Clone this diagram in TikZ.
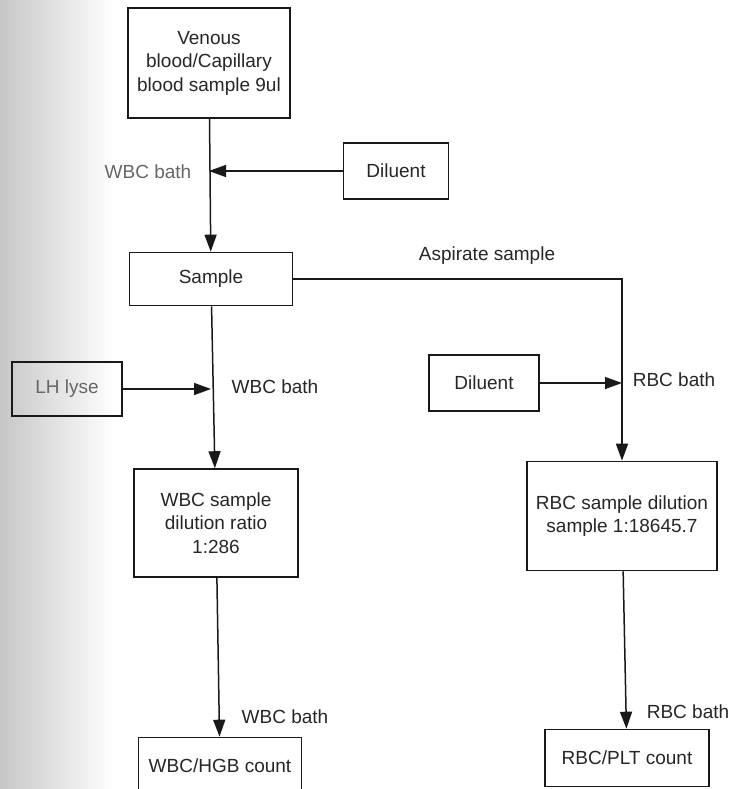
\documentclass[tikz,border=0pt]{standalone}
\usepackage{fontspec}
\setmainfont{Liberation Sans}
\usetikzlibrary{arrows.meta,positioning}

\begin{document}
\begin{tikzpicture}[
    x=1pt, y=-1pt,
    every node/.style={font=\fontsize{19}{23.5}\selectfont, text=black!85},
    box/.style={draw=black!90, line width=1.6pt, align=center, inner sep=0pt},
    tag/.style={inner sep=1pt},
    flow/.style={-{Triangle[length=17pt, width=12pt]}, line width=1.5pt, black!90}
]
\useasboundingbox (0,0) rectangle (732,789);
\clip (0,0) rectangle (732,789);
% scanner shadow on the left edge
\shade[left color=black!22, right color=white] (0,0) rectangle (115,789);

\node[box, minimum width=162pt, minimum height=110pt] (blood) at (209,63) {Venous\\blood/Capillary\\blood sample 9ul};
\node[box, minimum width=105pt, minimum height=56pt] (diluentw) at (396,171) {Diluent};
\node[box, minimum width=163pt, minimum height=53pt] (sample) at (211,279) {Sample};
\node[box, minimum width=110pt, minimum height=54pt, text=black!60] (lyse) at (67,389) {LH lyse};
\node[box, minimum width=110pt, minimum height=56pt] (diluentr) at (484,383) {Diluent};
\node[box, minimum width=164pt, minimum height=108pt] (wbcdil) at (216,523) {WBC sample\\dilution ratio\\1:286};
\node[box, minimum width=190pt, minimum height=109pt] (rbcdil) at (622,516) {RBC sample dilution\\sample 1:18645.7};
\node[box, minimum width=163pt, minimum height=57pt] (wbccount) at (220,766) {WBC/HGB count};
\node[box, minimum width=164pt, minimum height=57pt] (rbccount) at (627,758) {RBC/PLT count};

\node[tag, text=black!60] (bathw1) at (148,172) {WBC bath};
\node[tag] (aspirate) at (487,256) {Aspirate sample};
\node[tag] (bathw2) at (275,387) {WBC bath};
\node[tag] (bathr1) at (674,380) {RBC bath};
\node[tag] (bathw3) at (285,717) {WBC bath};
\node[tag] (bathr2) at (688,712) {RBC bath};

\draw[flow] (blood) -- (sample);
\draw[flow] (diluentw.west) -- (diluentw.west -| blood.south);
\draw[flow] (sample) -- (wbcdil);
\draw[flow] (lyse.east) -- (lyse.east -| sample.south);
\draw[flow] (wbcdil) -- (wbccount);
\draw[flow] (sample.east) -| (rbcdil.north);
\draw[flow] (diluentr.east) -- (diluentr.east -| rbcdil.north);
\draw[flow] (rbcdil) -- (rbccount);
\end{tikzpicture}
\end{document}
